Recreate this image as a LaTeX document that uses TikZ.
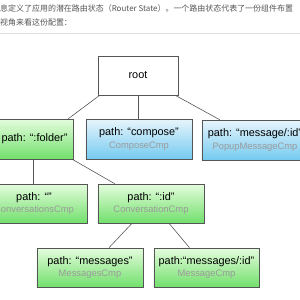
\documentclass[tikz,border=0pt]{standalone}
\usepackage{fontspec}
\setmainfont{Liberation Sans}
\newfontfamily\cjk{Noto Sans CJK SC}
\usetikzlibrary{calc}
\definecolor{greentop}{HTML}{E4FCDD}
\definecolor{greenbot}{HTML}{72E06C}
\definecolor{bluetop}{HTML}{E8F5FC}
\definecolor{bluebot}{HTML}{74CAF0}
\definecolor{cmpgray}{HTML}{9A9A9A}
\definecolor{edgegray}{HTML}{555555}
\definecolor{introgray}{HTML}{555555}
\newcommand\cmpname[1]{{\color{cmpgray}\fontsize{8}{9}\selectfont #1}}
\begin{document}
\begin{tikzpicture}[x=0.03cm,y=-0.03cm,
  box/.style={draw=edgegray,line width=0.5pt,inner sep=0pt,align=center,
    font=\fontsize{9.3}{11}\selectfont,minimum width=3.18cm,minimum height=1.2cm},
  greenbox/.style={box,top color=greentop,bottom color=greenbot},
  bluebox/.style={box,top color=bluetop,bottom color=bluebot},
  intro/.style={anchor=west,inner sep=0pt,text=introgray,font=\cjk\fontsize{6.8}{7}\selectfont},
  link/.style={draw=edgegray,line width=0.5pt}]
\useasboundingbox (0,0) rectangle (300,300);
\clip (0,0) rectangle (300,300);
\fill[white] (0,0) rectangle (300,300);
\node[intro] (introa) at (0,8) {息定义了应用的潜在路由状态（Router State）。一个路由状态代表了一份组件布置};
\node[intro] (introb) at (0,22) {视角来看这份配置：};
\draw[gray!25] (0,33) -- (300,33);
\node[box,fill=white,minimum width=2.4cm,minimum height=1.17cm] (root) at (138,75.5) {root};
\node[greenbox,minimum width=2.31cm] (folder) at (34.5,139) {path: “:folder”};
\node[bluebox] (compose) at (139,139) {path: “compose”\\\cmpname{ComposeCmp}};
\node[bluebox] (popup) at (255,140) {path: “message/:id”\\\cmpname{PopupMessageCmp}};
\node[greenbox,minimum height=1.17cm] (convs) at (34,203.5) {path: “”\\\cmpname{ConversationsCmp}};
\node[greenbox,minimum height=1.17cm] (conv) at (151,203.5) {path: “:id”\\\cmpname{ConversationCmp}};
\node[greenbox,minimum height=1.17cm] (msgs) at (90,267.5) {path: “messages”\\\cmpname{MessagesCmp}};
\node[greenbox,minimum height=1.17cm,minimum width=3.15cm] (msg) at (206.5,267.5) {path:“messages/:id”\\\cmpname{MessageCmp}};
\draw[link] ($(root.south west)+(2,0)$) -- ($(folder.north east)+(-5,0)$);
\draw[link] (root.south) -- (root.south |- compose.north);
\draw[link] ($(root.south east)+(-3,0)$) -- ($(popup.north west)+(18,0)$);
\draw[link] ($(folder.south)+(-1.5,0)$) -- ($(folder.south |- convs.north)+(-1.5,0)$);
\draw[link] ($(folder.south east)+(-1,0)$) -- ($(conv.north west)+(17,0)$);
\draw[link] ($(conv.south)+(-19,0)$) -- ($(msgs.north)+(19,0)$);
\draw[link] ($(conv.south)+(18,0)$) -- ($(msg.north)+(-17,0)$);
\end{tikzpicture}
\end{document}
